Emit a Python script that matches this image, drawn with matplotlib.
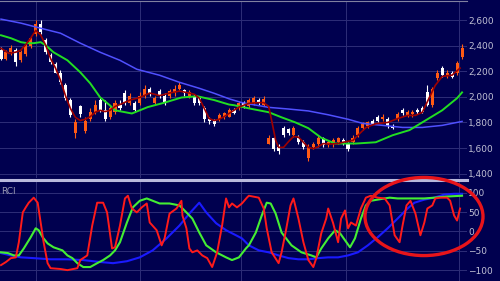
import numpy as np
import matplotlib.pyplot as plt
from matplotlib.patches import Ellipse
from matplotlib.ticker import FuncFormatter

# daily candles (price)
opens = [2365, 2300, 2350, 2365, 2285, 2335, 2395, 2490, 2570, 2445,
         2325, 2255, 2190, 2090, 1975, 1715, 1925, 1735, 1830, 1880,
         1975, 1895, 1845, 1880, 1940, 2030, 1955, 1950, 1950, 2005,
         2060, 1950, 2045, 2010, 2005, 2030, 2065, 2050, 2010, 2005,
         1990, 1910, 1830, 1815, 1825, 1840, 1845, 1895, 1910, 1950,
         1925, 1955, 1975, 1940, 1635, 1675, 1610, 1755, 1745, 1705,
         1680, 1650, 1525, 1610, 1630, 1675, 1620, 1630, 1650, 1660,
         1635, 1650, 1705, 1755, 1775, 1815, 1840, 1830, 1830, 1775,
         1830, 1895, 1855, 1865, 1895, 1910, 2035, 1935, 2145, 2225,
         2170, 2185, 2190, 2310]
closes = [2300, 2350, 2380, 2270, 2350, 2395, 2460, 2570, 2505, 2350,
          2270, 2190, 2115, 1990, 1855, 1800, 1865, 1815, 1880, 1935,
          1895, 1830, 1910, 1950, 1910, 1955, 2010, 1895, 2005, 2065,
          2020, 1990, 2010, 1955, 2045, 2065, 2090, 2030, 2035, 1955,
          1955, 1830, 1810, 1790, 1855, 1870, 1895, 1870, 1950, 1920,
          1975, 1990, 1955, 1980, 1680, 1595, 1575, 1705, 1715, 1755,
          1650, 1605, 1610, 1635, 1680, 1620, 1645, 1660, 1675, 1635,
          1595, 1680, 1755, 1785, 1800, 1790, 1815, 1845, 1775, 1755,
          1865, 1870, 1880, 1885, 1880, 1880, 1940, 2065, 2185, 2170,
          2190, 2155, 2265, 2380]
highs = [2390, 2365, 2405, 2380, 2365, 2410, 2475, 2600, 2600, 2460,
         2340, 2270, 2210, 2105, 1990, 1830, 1940, 1840, 1910, 1975,
         1990, 1975, 1925, 1975, 1975, 2050, 2030, 1965, 2035, 2090,
         2075, 2005, 2060, 2030, 2060, 2090, 2115, 2065, 2050, 2020,
         2005, 1925, 1845, 1825, 1870, 1885, 1910, 1910, 1965, 1965,
         1990, 2005, 1995, 2010, 1700, 1690, 1630, 1770, 1760, 1770,
         1700, 1665, 1630, 1650, 1700, 1690, 1660, 1675, 1690, 1675,
         1650, 1700, 1770, 1800, 1815, 1830, 1855, 1865, 1845, 1790,
         1880, 1910, 1895, 1900, 1910, 1925, 2090, 2080, 2210, 2240,
         2210, 2200, 2280, 2410]
lows = [2285, 2285, 2325, 2245, 2270, 2320, 2380, 2475, 2490, 2335,
        2255, 2185, 2100, 1975, 1840, 1680, 1845, 1715, 1815, 1865,
        1880, 1815, 1830, 1865, 1895, 1940, 1940, 1880, 1935, 1990,
        2005, 1935, 1995, 1940, 1990, 2010, 2050, 2010, 1995, 1940,
        1940, 1800, 1790, 1775, 1815, 1825, 1840, 1865, 1895, 1910,
        1910, 1940, 1940, 1925, 1630, 1580, 1555, 1690, 1700, 1690,
        1635, 1590, 1500, 1595, 1610, 1610, 1605, 1610, 1635, 1620,
        1580, 1635, 1690, 1740, 1760, 1785, 1800, 1810, 1760, 1745,
        1815, 1855, 1840, 1845, 1865, 1870, 1925, 1920, 2130, 2155,
        2145, 2145, 2175, 2300]

# moving averages (day, price)
ma5_x = [0, 1.6, 3, 4, 5, 6, 7, 8, 9, 10, 11, 12, 13, 14, 15, 16, 17, 18, 19, 20,
         21, 22, 23, 24, 26, 28, 30, 32, 34, 36, 38, 39, 40, 41, 42, 43, 44, 45, 46, 48,
         50, 52, 53, 54, 54.6, 55.4, 56, 57, 58, 59, 60, 61, 62, 63, 64, 65, 66, 68, 69, 71,
         72.4, 73.6, 75.6, 78, 80, 82, 83.6, 85, 86.4, 87.6, 89, 91, 92.6]
ma5 = [2380, 2340, 2350, 2365, 2410, 2460, 2520, 2485, 2405, 2300, 2225, 2130, 2010, 1910, 1840,
       1815, 1825, 1845, 1880, 1895, 1885, 1895, 1925, 1940, 1975, 1995, 2030, 2010, 2030, 2045,
       2030, 2020, 1990, 1910, 1830, 1815, 1825, 1845, 1870, 1920, 1950, 1955, 1955, 1925, 1815,
       1660, 1605, 1605, 1650, 1690, 1685, 1645, 1605, 1595, 1610, 1635, 1630, 1635, 1645, 1660,
       1715, 1760, 1790, 1800, 1830, 1855, 1855, 1880, 1995, 2090, 2160, 2170, 2225]
ma25_x = [0, 2, 4, 5.4, 6.6, 8, 9, 10.6, 13.4, 16, 18, 20, 22, 23, 26.4, 29.6, 33, 36.4, 39.6,
          43, 46, 47, 50, 54, 56.6, 59.4, 62, 64.6, 67.4, 70, 71.6, 75.6, 79, 82.4, 85.6, 89, 92, 93]
ma25 = [2482, 2459, 2428, 2420, 2420, 2428, 2404, 2349, 2286, 2192, 2106, 1996, 1933, 1895,
        1870, 1920, 1955, 1995, 2005, 1975, 1940, 1935, 1910, 1880, 1840, 1800, 1755, 1680,
        1635, 1635, 1635, 1645, 1700, 1740, 1815, 1895, 1990, 2035]
ma75_x = [0, 4, 8, 12, 16, 20, 24, 27.4, 32, 36, 40, 43, 46, 48.4, 50, 54, 58, 62, 66, 70,
          73, 77, 81, 85, 89, 93]
ma75 = [2608, 2577, 2537, 2498, 2420, 2349, 2286, 2216, 2169, 2114, 2067, 2028, 1985, 1957,
        1945, 1918, 1905, 1890, 1860, 1825, 1792, 1777, 1761, 1761, 1777, 1808]

# RCI (day, value)
rci_a_x = [0, 1, 2, 3, 3.6, 4.4, 5, 5.6, 6.6, 7.4, 8, 8.6, 9.4, 10, 12, 13.4, 15.4, 16, 17.4,
           18.4, 19.4, 20.6, 21.4, 22.4, 23, 24, 25, 25.6, 26.4, 27.4, 28.4, 29.4, 30, 31.4,
           32.4, 33, 34, 35.4, 36.4, 36.6, 37.4, 38, 38.6, 39.6, 40.6, 41.6, 42.6, 43.6, 44.6,
           45.4, 46, 46.6, 47.6, 48.6, 49.6, 50, 52, 53, 53.6, 54.6, 56, 56.6, 57.4, 58.4, 59,
           60, 61, 62, 63, 63.6, 64.6, 65.6, 66, 67, 68, 68.6, 69.4, 70, 70.6, 71.6, 72.6, 73.6,
           74.6, 76, 77.4, 78.4, 79.4, 80.4, 81, 81.8, 82.6, 83.6, 84.6, 85.4, 86, 87, 87.6,
           88.6, 90, 90.6, 91.4, 92, 92.6]
rci_a = [-87, -79, -69, -67, -28, 49, 62, 74, 87, 74, 23, -28, -82, -95, -97, -100, -95, -74,
         -62, 15, 74, 74, 49, -44, -41, 15, 85, 92, 59, 49, 62, 72, 23, 3, -36, -18, 46, 59, 79,
         41, 8, -44, -54, -49, -62, -69, -92, -54, 15, 85, 62, 72, 62, 72, 87, 92, 87, 59, 8,
         -54, -82, -54, -3, 67, 85, 33, -28, -74, -92, -69, -5, 33, 59, 21, -28, 33, 54, 8, 23,
         15, 59, 87, 92, 87, 85, 67, -10, -28, 15, 67, 79, 46, -10, 23, 59, 67, 85, 87, 87, 79,
         41, 28, 59]
rci_b_x = [0, 1.4, 2.6, 3.6, 4.6, 6, 7, 7.6, 8.4, 9.4, 10.6, 12.4, 13.4, 14.4, 15.4, 16.6, 18,
           19.4, 20.6, 22, 23, 24, 25.4, 26.6, 28, 29.4, 30.6, 32, 34, 36, 37.4, 38.6, 40, 41.4,
           43.4, 45.4, 46.6, 48, 49.4, 50, 51.4, 52.6, 53.6, 54.4, 55.4, 56.6, 58.6, 60.6, 62.6,
           63.6, 64.6, 66, 67.4, 68.4, 69.4, 70.4, 71.4, 72.6, 73.6, 74.6, 76, 77.4, 78.4, 80,
           82, 84, 85.4, 87.4, 90, 93]
rci_b = [-54, -56, -62, -62, -44, -15, 8, 3, -15, -31, -41, -49, -62, -69, -82, -92, -92, -82,
         -74, -62, -49, -28, 23, 62, 79, 85, 79, 72, 72, 67, 49, 33, -3, -36, -54, -67, -74, -67,
         -44, -36, -3, 41, 74, 72, 46, -3, -36, -54, -62, -67, -44, -18, 3, -5, -23, -41, -18,
         33, 67, 79, 82, 85, 87, 85, 85, 85, 85, 87, 90, 92]
rci_c_x = [0, 2, 4, 6.6, 10, 13.4, 16.6, 20, 22.6, 25.4, 28, 30.6, 33.4, 36, 38, 40, 41.4, 43.4,
           45.4, 47.4, 48.6, 50, 52, 54, 56, 58, 60, 62, 64, 66, 68, 70, 72, 74, 76, 78, 80, 82,
           83.4, 85.4, 87.4, 89.4, 91.4, 93]
rci_c = [-56, -62, -67, -69, -72, -72, -74, -79, -82, -77, -67, -49, -18, 15, 46, 74, 49, 21, 3,
         -10, -18, -36, -49, -54, -62, -69, -72, -72, -69, -67, -67, -62, -54, -36, -15, 8, 33,
         59, 74, 82, 87, 95, 97, 97]

price_ticks = [1400, 1600, 1800, 2000, 2200, 2400, 2600]
rci_ticks = [-100, -50, 0, 50, 100]
grid_days = [7, 28, 48.4, 69.6, 92.4]

bg = '#00004f'
gridc = '#2e2e78'
edge = '#b8b8dc'
labc = '#c0c0d4'

fig = plt.figure(figsize=(5, 2.81), dpi=100, facecolor=bg)
ax1 = fig.add_axes([0, 0.365, 0.934, 0.631])
ax2 = fig.add_axes([0, 0, 0.934, 0.360])

# candles
o = np.array(opens)
c = np.array(closes)
days = np.arange(len(c))
cols = np.where(c >= o, '#ff5a14', '#ffffff')
ax1.vlines(days, lows, highs, colors=cols, lw=0.8, zorder=2)
ax1.bar(days, np.maximum(np.abs(c - o), 5), bottom=np.minimum(o, c), width=0.62,
        color=cols, linewidth=0, zorder=3)

ax1.plot(ma75_x, ma75, color='#5050ff', lw=1.1, zorder=4)
ax1.plot(ma25_x, ma25, color='#22dd22', lw=1.4, zorder=4)
ax1.plot(ma5_x, ma5, color='#9e0000', lw=1.2, zorder=5)

ax2.plot(rci_c_x, rci_c, color='#1a1aff', lw=1.5)
ax2.plot(rci_b_x, rci_b, color='#44ee33', lw=1.5)
ax2.plot(rci_a_x, rci_a, color='#ff1a1a', lw=1.4)

for ax in (ax1, ax2):
    ax.set_facecolor(bg)
    ax.set_xlim(-0.2, 94)
    ax.set_xticks(grid_days)
    ax.grid(color=gridc, lw=0.7)
    ax.set_axisbelow(True)
    ax.yaxis.tick_right()
    ax.tick_params(axis='x', length=0, labelbottom=False)
    ax.tick_params(axis='y', length=0, pad=1, labelsize=6.5, labelcolor=labc)
    for s in ax.spines.values():
        s.set_visible(False)

ax1.set_ylim(1362, 2749)
ax1.set_yticks(price_ticks)
ax1.yaxis.set_major_formatter(FuncFormatter(lambda v, p: f'{v:,.0f}'))
ax1.spines['top'].set_visible(True)
ax1.spines['top'].set_color('#8080a0')

# separator band between the panels
ax2.set_ylim(-128, 133)
ax2.set_yticks(rci_ticks)
ax2.spines['top'].set_visible(True)
ax2.spines['top'].set_color(edge)
ax2.spines['top'].set_linewidth(2.2)
ax2.text(0.003, 0.93, 'RCI', transform=ax2.transAxes, color='#9a9ab4', fontsize=6.5, va='top')

fig.add_artist(Ellipse((0.848, 0.2295), 0.236, 0.278, transform=fig.transFigure,
                       fill=False, ec='#e8141a', lw=2.4))

fig.savefig('out.png', dpi=100, facecolor=bg)
